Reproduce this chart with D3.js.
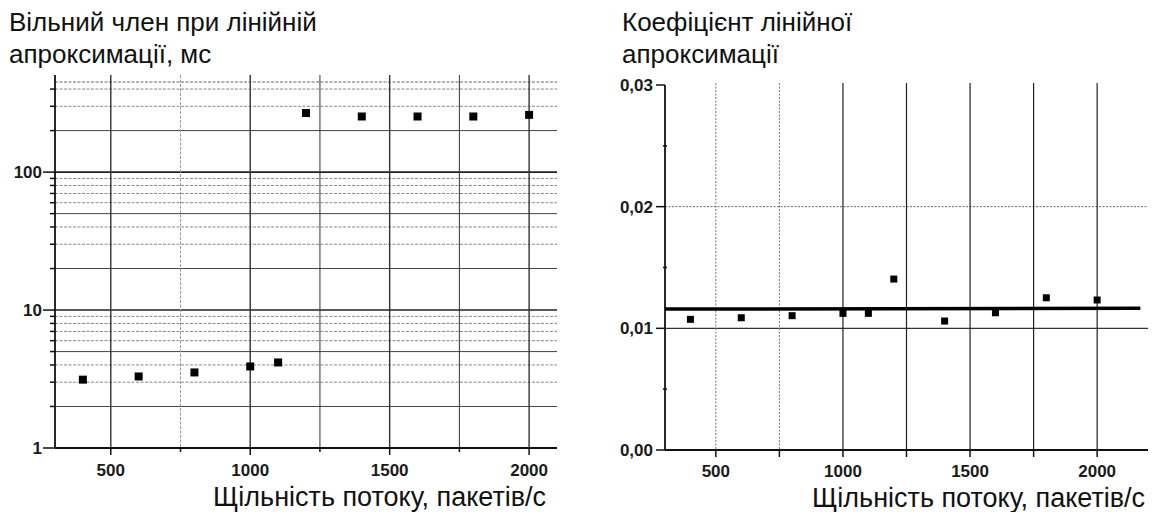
<!DOCTYPE html>
<html>
<head>
<meta charset="utf-8">
<script src="https://cdn.jsdelivr.net/npm/d3@7"></script>
<style>
  body { margin: 0; background: #fff; }
  svg { font-family: "Liberation Sans", Arial, sans-serif; }
  .title { font-size: 26px; fill: #111; }
  .axis-title { font-size: 27px; fill: #111; }
  .tick-label { font-size: 17px; font-weight: bold; fill: #1a1a1a; }
</style>
</head>
<body>
<div id="chart"></div>
<script>
// дані, зчитані з графіків
const flowRate = [400, 600, 800, 1000, 1100, 1200, 1400, 1600, 1800, 2000];      // пакетів/с
const interceptMs = [3.13, 3.30, 3.53, 3.90, 4.17, 268, 253, 253, 253, 260];     // вільний член, мс
const slopeCoef = [0.01074, 0.01087, 0.01104, 0.01123, 0.01123, 0.01405, 0.0106, 0.01128, 0.01251, 0.01233];
const fitX = [300, 2170];
const fitY = [0.01158, 0.01166];

const leftYTicks = [1, 10, 100];
const rightYTicks = [0, 0.01, 0.02, 0.03];
const xTicks = [500, 1000, 1500, 2000];
const xGrid = [500, 750, 1000, 1250, 1500, 1750, 2000];

const svg = d3.select("#chart").append("svg")
    .attr("width", 1154)
    .attr("height", 512);

const fmtComma = d3.formatLocale({ decimal: ",", thousands: " ", grouping: [3], currency: ["", ""] }).format(".2f");

// ---------- лівий графік (логарифмічна шкала) ----------
const xL = d3.scaleLinear().domain([300, 2100]).range([55, 557]);
const yL = d3.scaleLog().domain([1, 450]).range([448, 82]);

const gL = svg.append("g");

// мінорні горизонтальні лінії
const minorL = [];
[1, 10, 100].forEach(dec => {
    for (let m = 2; m <= 9; m++) {
        if (dec * m < 450) minorL.push(dec * m);
    }
});
const strongMinor = d => String(d)[0] === "2" || String(d)[0] === "5";

gL.selectAll("line.minor")
    .data(minorL)
    .enter().append("line")
    .attr("x1", xL(300)).attr("x2", 557)
    .attr("y1", d => yL(d)).attr("y2", d => yL(d))
    .attr("stroke", d => strongMinor(d) ? "#444" : "#888")
    .attr("stroke-width", 1)
    .attr("stroke-dasharray", d => strongMinor(d) ? null : "3,1.5");

// верхня межа
gL.append("line")
    .attr("x1", xL(300)).attr("x2", 557)
    .attr("y1", yL(450)).attr("y2", yL(450))
    .attr("stroke", "#666").attr("stroke-dasharray", "3,1.5");

// основні горизонтальні лінії
gL.selectAll("line.major")
    .data([10, 100])
    .enter().append("line")
    .attr("x1", xL(300)).attr("x2", 557)
    .attr("y1", d => yL(d)).attr("y2", d => yL(d))
    .attr("stroke", "#222").attr("stroke-width", 1.6);

// вертикальні лінії
gL.selectAll("line.vgrid")
    .data(xGrid)
    .enter().append("line")
    .attr("x1", d => xL(d)).attr("x2", d => xL(d))
    .attr("y1", 75).attr("y2", 448)
    .attr("stroke", d => d === 750 ? "#999" : "#333")
    .attr("stroke-width", d => d % 500 === 0 ? 1.4 : 1)
    .attr("stroke-dasharray", d => d === 750 ? "3,1.5" : null);

// осі
gL.append("line").attr("x1", 55).attr("x2", 55).attr("y1", 75).attr("y2", 448)
    .attr("stroke", "#111").attr("stroke-width", 1.8);
gL.append("line").attr("x1", 55).attr("x2", 557).attr("y1", 448).attr("y2", 448)
    .attr("stroke", "#111").attr("stroke-width", 1.8);

// засічки осі Y
gL.selectAll("line.ytick")
    .data(leftYTicks)
    .enter().append("line")
    .attr("x1", 43).attr("x2", 55)
    .attr("y1", d => yL(d)).attr("y2", d => yL(d))
    .attr("stroke", "#111").attr("stroke-width", 1.5);
gL.selectAll("line.ymtick")
    .data(minorL)
    .enter().append("line")
    .attr("x1", 50).attr("x2", 55)
    .attr("y1", d => yL(d)).attr("y2", d => yL(d))
    .attr("stroke", "#111").attr("stroke-width", 1.5);

gL.selectAll("text.ylab")
    .data(leftYTicks)
    .enter().append("text")
    .attr("class", "tick-label")
    .attr("x", 42).attr("y", d => yL(d) + 6)
    .attr("text-anchor", "end")
    .text(d => d);

// засічки осі X
gL.selectAll("line.xtick")
    .data(xGrid)
    .enter().append("line")
    .attr("x1", d => xL(d)).attr("x2", d => xL(d))
    .attr("y1", 448).attr("y2", d => d % 500 === 0 ? 455 : 452)
    .attr("stroke", "#111").attr("stroke-width", 1.5);

gL.selectAll("text.xlab")
    .data(xTicks)
    .enter().append("text")
    .attr("class", "tick-label")
    .attr("x", d => xL(d)).attr("y", 476)
    .attr("text-anchor", "middle")
    .text(d => d);

// точки
gL.selectAll("rect.pt")
    .data(flowRate)
    .enter().append("rect")
    .attr("x", d => xL(d) - 4)
    .attr("y", (d, i) => yL(interceptMs[i]) - 4)
    .attr("width", 8).attr("height", 8)
    .attr("fill", "#000");

gL.append("text").attr("class", "title").attr("x", 9).attr("y", 31).text("Вільний член при лінійній");
gL.append("text").attr("class", "title").attr("x", 9).attr("y", 63).text("апроксимації, мс");
gL.append("text").attr("class", "axis-title").attr("x", 213).attr("y", 506).text("Щільність потоку, пакетів/с");

// ---------- правий графік ----------
const xR = d3.scaleLinear().domain([300, 2200]).range([665, 1148]);
const yR = d3.scaleLinear().domain([0, 0.03]).range([450, 85]);

const gR = svg.append("g");

gR.append("line")
    .attr("x1", 665).attr("x2", 1148)
    .attr("y1", yR(0.02)).attr("y2", yR(0.02))
    .attr("stroke", "#666").attr("stroke-dasharray", "2,1.5");
gR.append("line")
    .attr("x1", 665).attr("x2", 1148)
    .attr("y1", yR(0.01)).attr("y2", yR(0.01))
    .attr("stroke", "#333").attr("stroke-width", 1.2);

gR.selectAll("line.vgrid")
    .data(xGrid)
    .enter().append("line")
    .attr("x1", d => xR(d)).attr("x2", d => xR(d))
    .attr("y1", 83).attr("y2", 450)
    .attr("stroke", d => d < 1000 ? "#777" : "#222")
    .attr("stroke-width", d => d < 1000 ? 1 : 1.2)
    .attr("stroke-dasharray", d => d < 1000 ? "2,1.5" : null);

// осі
gR.append("line").attr("x1", 665).attr("x2", 665).attr("y1", 85).attr("y2", 450)
    .attr("stroke", "#111").attr("stroke-width", 1.8);
gR.append("line").attr("x1", 665).attr("x2", 1148).attr("y1", 450).attr("y2", 450)
    .attr("stroke", "#111").attr("stroke-width", 1.8);

gR.selectAll("line.ytick")
    .data(rightYTicks)
    .enter().append("line")
    .attr("x1", 656).attr("x2", 665)
    .attr("y1", d => yR(d)).attr("y2", d => yR(d))
    .attr("stroke", "#111").attr("stroke-width", 1.5);
gR.selectAll("line.ymtick")
    .data([0.005, 0.015, 0.025])
    .enter().append("line")
    .attr("x1", 663).attr("x2", 667)
    .attr("y1", d => yR(d)).attr("y2", d => yR(d))
    .attr("stroke", "#111").attr("stroke-width", 1.5);

gR.selectAll("text.ylab")
    .data(rightYTicks)
    .enter().append("text")
    .attr("class", "tick-label")
    .attr("x", 653).attr("y", d => yR(d) + 6)
    .attr("text-anchor", "end")
    .text(d => fmtComma(d));

gR.selectAll("line.xtick")
    .data(xGrid)
    .enter().append("line")
    .attr("x1", d => xR(d)).attr("x2", d => xR(d))
    .attr("y1", 450).attr("y2", 457)
    .attr("stroke", "#111").attr("stroke-width", 1.5);

gR.selectAll("text.xlab")
    .data(xTicks)
    .enter().append("text")
    .attr("class", "tick-label")
    .attr("x", d => xR(d)).attr("y", 477)
    .attr("text-anchor", "middle")
    .text(d => d);

// лінія апроксимації
gR.append("path")
    .datum(fitX.map((x, i) => [x, fitY[i]]))
    .attr("d", d3.line().x(d => xR(d[0])).y(d => yR(d[1])))
    .attr("stroke", "#000").attr("stroke-width", 3.5).attr("fill", "none");

gR.selectAll("rect.pt")
    .data(flowRate)
    .enter().append("rect")
    .attr("x", d => xR(d) - 3.5)
    .attr("y", (d, i) => yR(slopeCoef[i]) - 3.5)
    .attr("width", 7).attr("height", 7)
    .attr("fill", "#000");

gR.append("text").attr("class", "title").attr("x", 622).attr("y", 31).text("Коефіцієнт лінійної");
gR.append("text").attr("class", "title").attr("x", 622).attr("y", 63).text("апроксимації");
gR.append("text").attr("class", "axis-title").attr("x", 812).attr("y", 507).text("Щільність потоку, пакетів/с");
</script>
</body>
</html>
